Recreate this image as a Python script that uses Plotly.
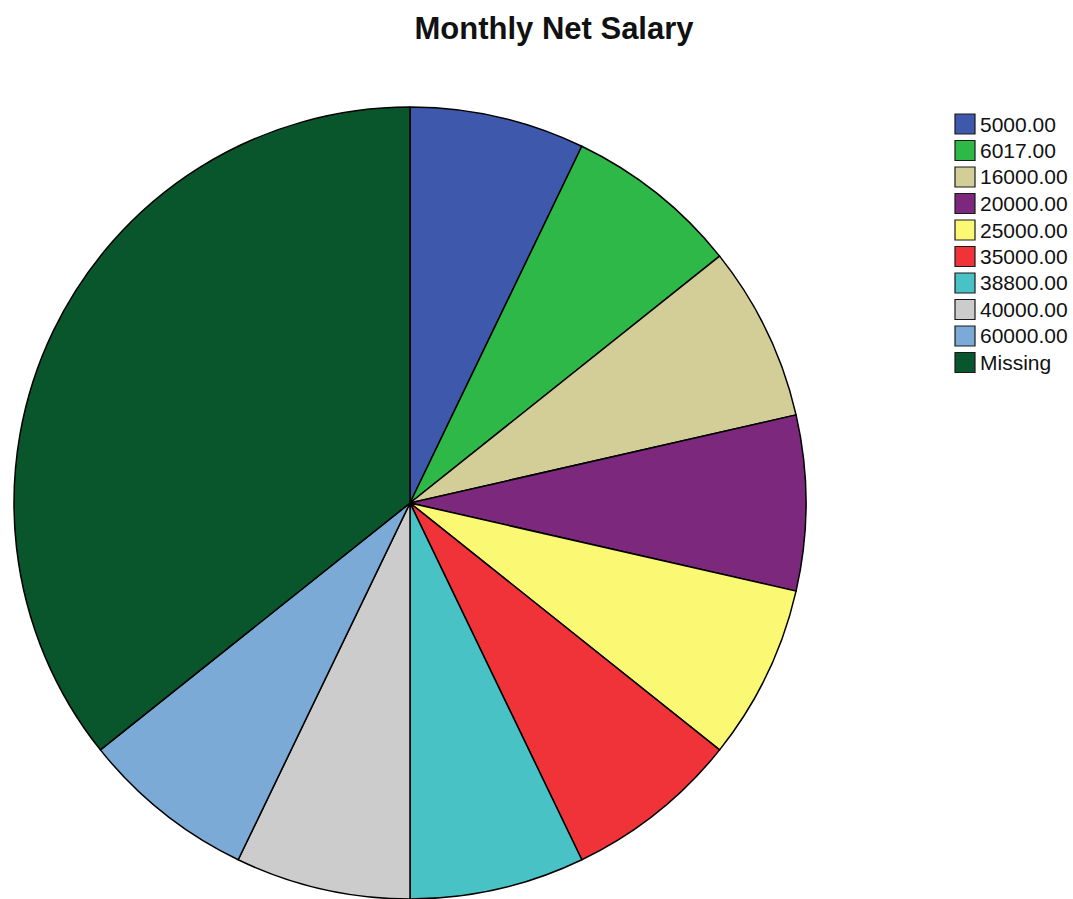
import plotly.graph_objects as go

# Monthly net salary frequencies (one respondent per value, 5 missing)
labels = ["5000.00", "6017.00", "16000.00", "20000.00", "25000.00",
          "35000.00", "38800.00", "40000.00", "60000.00", "Missing"]
counts = [1, 1, 1, 1, 1, 1, 1, 1, 1, 5]
colors = ["#3E58AC", "#2EB848", "#D3CE97", "#7C287D", "#FBF873",
          "#EF3338", "#48C2C5", "#CCCCCC", "#7AAAD5", "#0A562C"]

W, H = 1073, 899


def px_x(x):
    return x / W


def px_y(y):
    return 1 - y / H


fig = go.Figure(go.Pie(
    labels=labels,
    values=counts,
    sort=False,
    direction="clockwise",
    rotation=0,
    textinfo="none",
    hoverinfo="label+value+percent",
    marker=dict(colors=colors, line=dict(color="#000000", width=1.5)),
    domain=dict(x=[px_x(12), px_x(808)], y=[0, px_y(107)]),
    showlegend=False,
))

# Legend column: bordered swatches with labels to the right
shapes = []
annotations = []
top, step, half = 124, 26.5, 10
for i, (lab, col) in enumerate(zip(labels, colors)):
    cy = top + i * step
    shapes.append(dict(
        type="rect", xref="paper", yref="paper",
        x0=px_x(955), x1=px_x(975), y0=px_y(cy + half), y1=px_y(cy - half),
        fillcolor=col, line=dict(color="#1a1a1a", width=1.2),
    ))
    annotations.append(dict(
        text=lab, xref="paper", yref="paper",
        x=px_x(978), y=px_y(cy), xanchor="left", yanchor="middle",
        showarrow=False, font=dict(family="Liberation Sans, Arial", size=21, color="#111111"),
    ))

fig.update_layout(
    width=W, height=H,
    margin=dict(l=0, r=0, t=0, b=0),
    paper_bgcolor="white",
    plot_bgcolor="white",
    title=dict(
        text="<b>Monthly Net Salary</b>",
        x=px_x(554), xanchor="center",
        y=px_y(28), yanchor="middle",
        font=dict(family="Liberation Sans, Arial", size=31, color="#111111"),
    ),
    shapes=shapes,
    annotations=annotations,
)

fig.write_html("out.html")
